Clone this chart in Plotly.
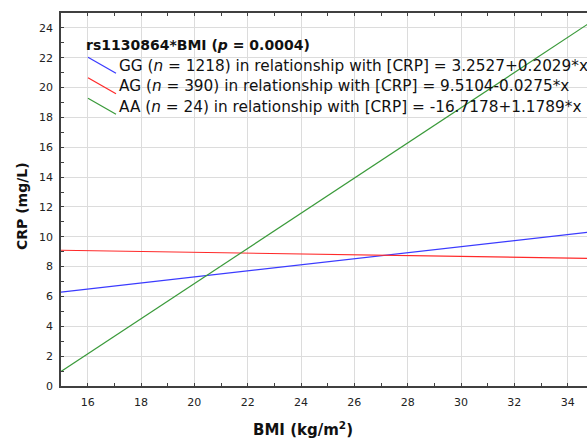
import plotly.graph_objects as go

# Data: regression lines (values at BMI = 15 and 35)
bmi = [15, 35]
crp_gg = [6.296, 10.354]
crp_ag = [9.098, 8.548]
crp_aa = [0.966, 24.544]

series_names = ["GG", "AG", "AA"]
series_n = [1218, 390, 24]
series_eq = ["3.2527+0.2029*x", "9.5104-0.0275*x", "-16.7178+1.1789*x"]
series_colors = ["#3b3bff", "#ff2a2a", "#3a9a3a"]
legend_title = "rs1130864*BMI (<i>p</i> = 0.0004)"

x_ticks = [16, 18, 20, 22, 24, 26, 28, 30, 32, 34]
y_ticks = [0, 2, 4, 6, 8, 10, 12, 14, 16, 18, 20, 22, 24]

W, H = 587, 439
L, T, B, R = 61, 13, 53, 0
PW, PH = W - L - R, H - T - B


def px(x):
    return (x - L) / PW


def py(y):
    return (H - B - y) / PH


fig = go.Figure()
for ys, name, col in zip([crp_gg, crp_ag, crp_aa], series_names, series_colors):
    fig.add_trace(go.Scatter(x=bmi, y=ys, mode="lines", name=name,
                             line=dict(color=col, width=1.2), showlegend=False))

font_main = "DejaVu Sans, Arial, sans-serif"
axis_common = dict(
    showline=True, linecolor="#404040", linewidth=1.5,
    showgrid=True, gridcolor="#dcdcdc", gridwidth=1,
    ticks="inside", ticklen=3, tickcolor="#404040",
    tickfont=dict(family=font_main, size=11, color="#222"),
    zeroline=False,
)

fig.update_xaxes(range=[15, 15 + PW / 26.667], tickvals=x_ticks, mirror="ticks",
                 minor=dict(ticks="inside", ticklen=3, dtick=1, tick0=15, showgrid=False, tickcolor="#404040"),
                 ticklabelstandoff=5, **axis_common)
fig.update_yaxes(range=[0, 25], tickvals=y_ticks,
                 minor=dict(ticks="inside", ticklen=3, dtick=1, tick0=0, showgrid=False, tickcolor="#404040"),
                 ticklabelstandoff=4, **axis_common)

annotations = [
    dict(text="BMI (kg/m<sup>2</sup>)", x=px(303), y=py(429), xref="paper", yref="paper",
         xanchor="center", yanchor="middle", showarrow=False,
         font=dict(family=font_main, size=15, color="#111", weight="bold")),
    dict(text="CRP (mg/L)", x=px(22), y=py(206), xref="paper", yref="paper", textangle=-90,
         xanchor="center", yanchor="middle", showarrow=False,
         font=dict(family=font_main, size=14, color="#111", weight="bold")),
    dict(text=legend_title, x=px(84), y=py(45), xref="paper", yref="paper",
         xanchor="left", yanchor="middle", showarrow=False,
         font=dict(family=font_main, size=14, color="#111", weight="bold")),
]

shapes = []
row_y = [65.7, 86.2, 106.7]
for name, n, eq, col, ry in zip(series_names, series_n, series_eq, series_colors, row_y):
    annotations.append(dict(
        text=f"{name} (<i>n</i> = {n}) in relationship with [CRP] = {eq}",
        x=px(117), y=py(ry), xref="paper", yref="paper",
        xanchor="left", yanchor="middle", showarrow=False,
        font=dict(family=font_main, size=15.3, color="#111")))
    shapes.append(dict(type="line", xref="paper", yref="paper",
                       x0=px(88), y0=py(ry - 8.5), x1=px(116), y1=py(ry + 7.5),
                       line=dict(color=col, width=1.2)))

fig.update_layout(
    width=W, height=H,
    margin=dict(l=L, r=R, t=T, b=B),
    paper_bgcolor="white", plot_bgcolor="white",
    annotations=annotations, shapes=shapes,
    showlegend=False,
)

fig.write_html("out.html", config={"displayModeBar": False},
               post_script="document.body.style.margin='0';document.body.style.overflow='hidden';")
